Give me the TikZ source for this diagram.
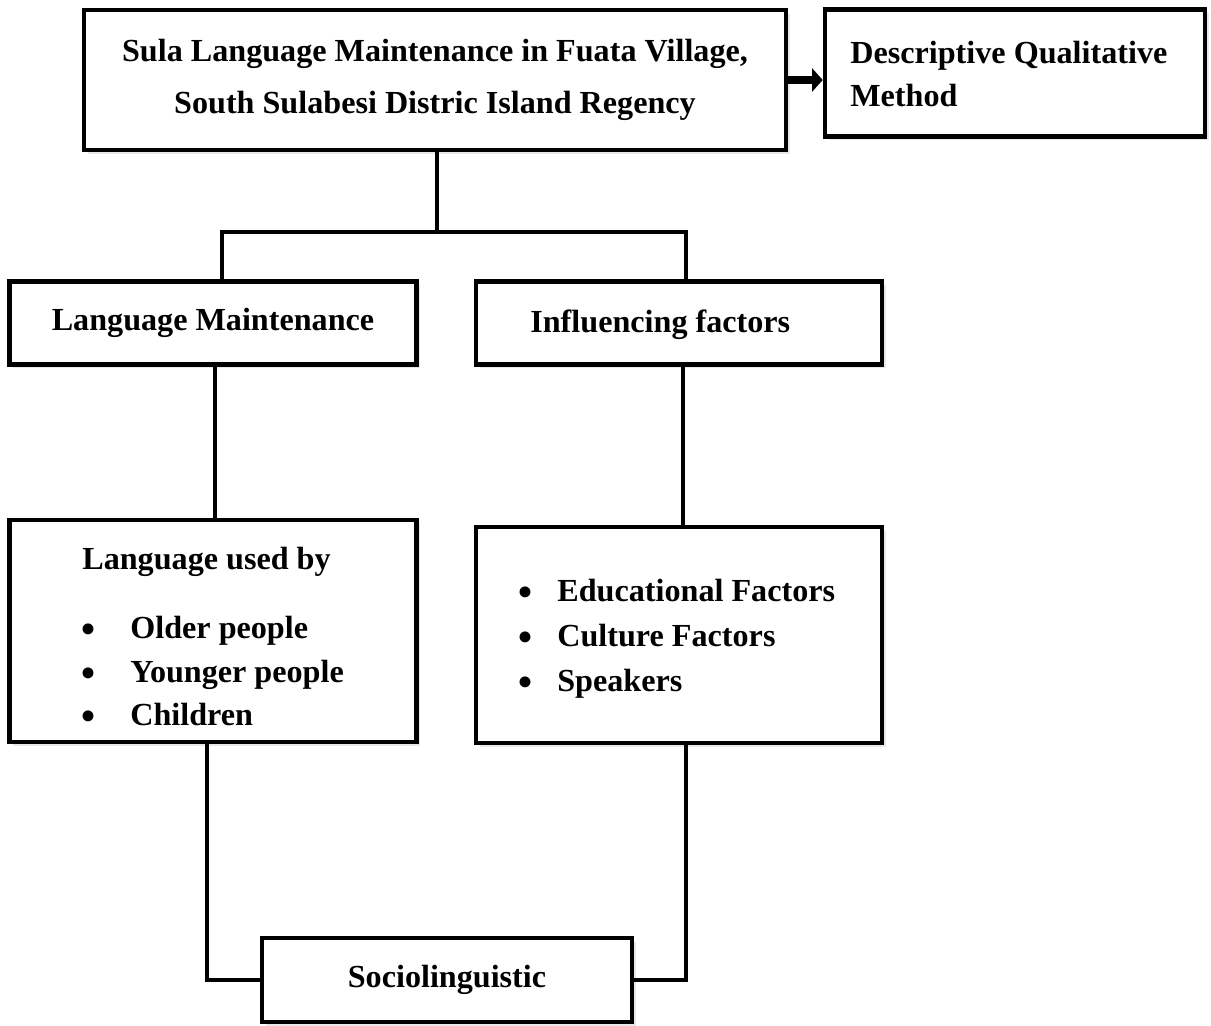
\documentclass[tikz,border=0pt]{standalone}
\usepackage{fontspec}
\setmainfont{Liberation Serif}
\usepackage{tikz}
\usetikzlibrary{arrows.meta,positioning,calc,shadows}

\begin{document}
\begin{tikzpicture}[
  x=0.02cm, y=-0.02cm,
  every node/.style={font=\fontsize{18.3}{29.5}\selectfont\bfseries},
  box/.style={draw, line width=2.6pt, fill=white, inner sep=0pt,
    drop shadow={opacity=0.18, shadow xshift=2pt, shadow yshift=-2pt}},
  link/.style={line width=2.6pt},
  item/.style={anchor=west, inner sep=0pt, text height=1.45ex, text depth=0.45ex},
  dot/.style={anchor=center, inner sep=0pt, font=\fontsize{26}{26}\selectfont}
]
  \useasboundingbox (0,0) rectangle (1211,1025);

  % Title and method
  \node[box, minimum width=702*0.02cm, minimum height=140*0.02cm, align=center]
    (title) at (435,80)
    {Sula Language Maintenance in Fuata Village,\\South Sulabesi Distric Island Regency};
  \node[box, minimum width=380*0.02cm, minimum height=127*0.02cm] (method) at (1015,73) {};
  \node[anchor=west, inner sep=0pt, align=left, font=\fontsize{18.3}{24}\selectfont\bfseries]
    (methodtxt) at (850,74) {Descriptive Qualitative\\Method};
  \draw[line width=4.5pt, -{Triangle[length=6pt, width=13pt]}] (title.east) -- (title.east -| method.west);

  % Second row
  \node[box, minimum width=407*0.02cm, minimum height=83*0.02cm] (maint) at (213,323) {Language Maintenance};
  \node[box, minimum width=406*0.02cm, minimum height=83*0.02cm] (factors) at (679,323) {};
  \node[item] (factorstxt) at (530,328) {Influencing factors};

  % Third row
  \node[box, minimum width=407*0.02cm, minimum height=222*0.02cm] (users) at (213,631) {};
  \node[item] (userstxt) at (82,565) {Language used by};
  \foreach \t [count=\i] in {Older people, Younger people, Children} {
    \node[dot] (ubul\i) at (88,591+43.5*\i) {\textbullet};
    \node[item] (user\i) at (130,591+43.5*\i) {\t};
  }
  \node[box, minimum width=406*0.02cm, minimum height=216*0.02cm] (kinds) at (679,635) {};
  \foreach \t [count=\i] in {Educational Factors, Culture Factors, Speakers} {
    \node[dot] (kbul\i) at (525,552+45*\i) {\textbullet};
    \node[item] (kind\i) at (557,552+45*\i) {\t};
  }

  % Bottom
  \node[box, minimum width=370*0.02cm, minimum height=84*0.02cm] (socio) at (447,980) {Sociolinguistic};

  % Connectors
  \coordinate (split) at (437,232);
  \draw[link] (title.south -| split) -- (split);
  \draw[link] ($(maint.north)+(9,0)$) |- (split) -| ($(factors.north)+(7,0)$);
  \draw[link] ($(maint.south)+(2,0)$) -- ($(users.north)+(2,0)$);
  \draw[link] ($(factors.south)+(4,0)$) -- ($(kinds.north)+(4,0)$);
  \draw[link] ($(users.south)+(-6,0)$) |- (socio.west);
  \draw[link] ($(kinds.south)+(7,0)$) |- (socio.east);
\end{tikzpicture}
\end{document}
